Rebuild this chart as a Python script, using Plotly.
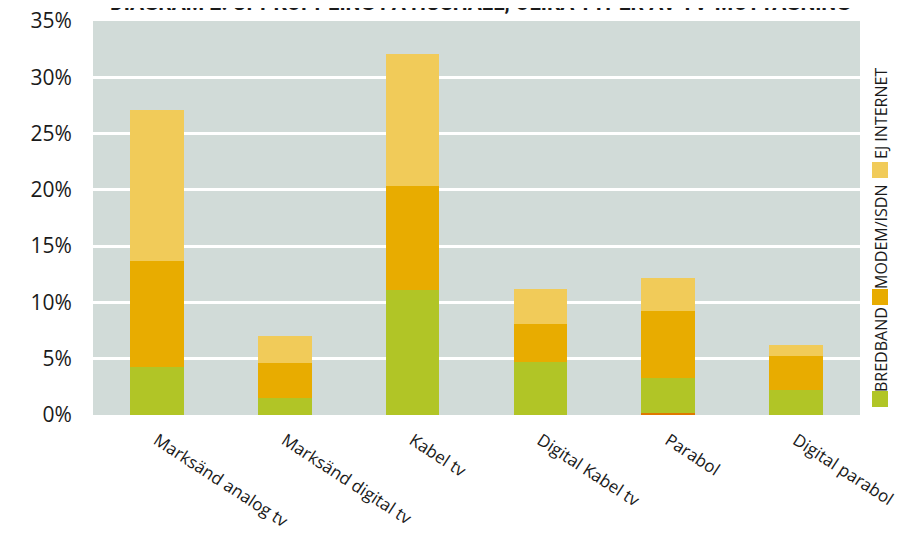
import plotly.graph_objects as go

categories = ["Marksänd analog tv", "Marksänd digital tv", "Kabel tv",
              "Digital Kabel tv", "Parabol", "Digital parabol"]
ovrigt = [0, 0, 0, 0, 0.15, 0]
bredband = [4.3, 1.5, 11.1, 4.7, 3.15, 2.2]
modem_isdn = [9.4, 3.1, 9.2, 3.4, 5.9, 3.0]
ej_internet = [13.4, 2.4, 11.8, 3.1, 3.0, 1.0]
legend_labels = ["BREDBAND", "MODEM/ISDN", "EJ INTERNET"]
title_text = "DIAGRAM 2: UPPKOPPLING PÅ HUSHÅLL, OLIKA TYPER AV TV-MOTTAGNING"

C_GREEN = "#b1c526"
C_ORANGE = "#e8ac00"
C_YELLOW = "#f1cb59"
C_DARK = "#e07800"
FONT = "Open Sans"

# page has an 8px body margin, so the figure is sized/offset accordingly
W, H = 913, 525
ML, MR, MT, MB = 85, 61, 13, 118
plot_w = W - ML - MR
plot_h = H - MT - MB

fig = go.Figure()
fig.add_bar(x=categories, y=ovrigt, marker_color=C_DARK, showlegend=False)
fig.add_bar(x=categories, y=bredband, marker_color=C_GREEN, name=legend_labels[0])
fig.add_bar(x=categories, y=modem_isdn, marker_color=C_ORANGE, name=legend_labels[1])
fig.add_bar(x=categories, y=ej_internet, marker_color=C_YELLOW, name=legend_labels[2])

fig.update_traces(marker_line_width=0)

fig.update_layout(
    barmode="stack",
    bargap=0.58,
    width=W, height=H,
    margin=dict(l=ML, r=MR, t=MT, b=MB),
    plot_bgcolor="#d1dbd8",
    paper_bgcolor="white",
    showlegend=False,
    font=dict(family=FONT, color="#1a1a1a"),
)
fig.update_yaxes(range=[0, 35], dtick=5, ticksuffix="%", automargin=False,
                 ticklabeloverflow="allow",
                 showgrid=True, gridcolor="white", gridwidth=2.5,
                 zeroline=False, showline=False,
                 ticks="outside", ticklen=16, tickcolor="rgba(0,0,0,0)",
                 tickfont=dict(size=21, family=FONT, color="#1a1a1a"))
fig.update_xaxes(tickangle=33, showgrid=False, showline=False, automargin=False,
                 ticks="outside", ticklen=8, tickcolor="rgba(0,0,0,0)",
                 tickfont=dict(size=17, family=FONT, color="#1a1a1a"))

# title (clipped at top as in reference)
fig.add_annotation(text="<b>" + title_text + "</b>", xref="paper", yref="paper",
                   x=0.505, y=1, yshift=4, xanchor="center", yanchor="bottom",
                   showarrow=False,
                   font=dict(size=21, family="Roboto", color="#1a1a1a"))

# vertical legend on the right (pixel positions relative to plot edges)
colors = [C_GREEN, C_ORANGE, C_YELLOW]
sq_y = [(391, 407), (289, 305), (162, 178)]   # page pixels
txt_y = [350, 237, 114]
def py(pix):
    return (415 - pix) / plot_h
def px(pix):
    return 1 + (pix - 860) / plot_w

for lbl, col, (y0, y1), ty in zip(legend_labels, colors, sq_y, txt_y):
    fig.add_shape(type="rect", xref="paper", yref="paper",
                  x0=px(872), x1=px(888),
                  y0=py(y1), y1=py(y0), fillcolor=col, line_width=0)
    fig.add_annotation(text=lbl, xref="paper", yref="paper",
                       x=px(881), y=py(ty), textangle=-90,
                       showarrow=False, xanchor="center", yanchor="middle",
                       font=dict(size=16, family=FONT, color="#1a1a1a"))

fig.write_html("out.html")
